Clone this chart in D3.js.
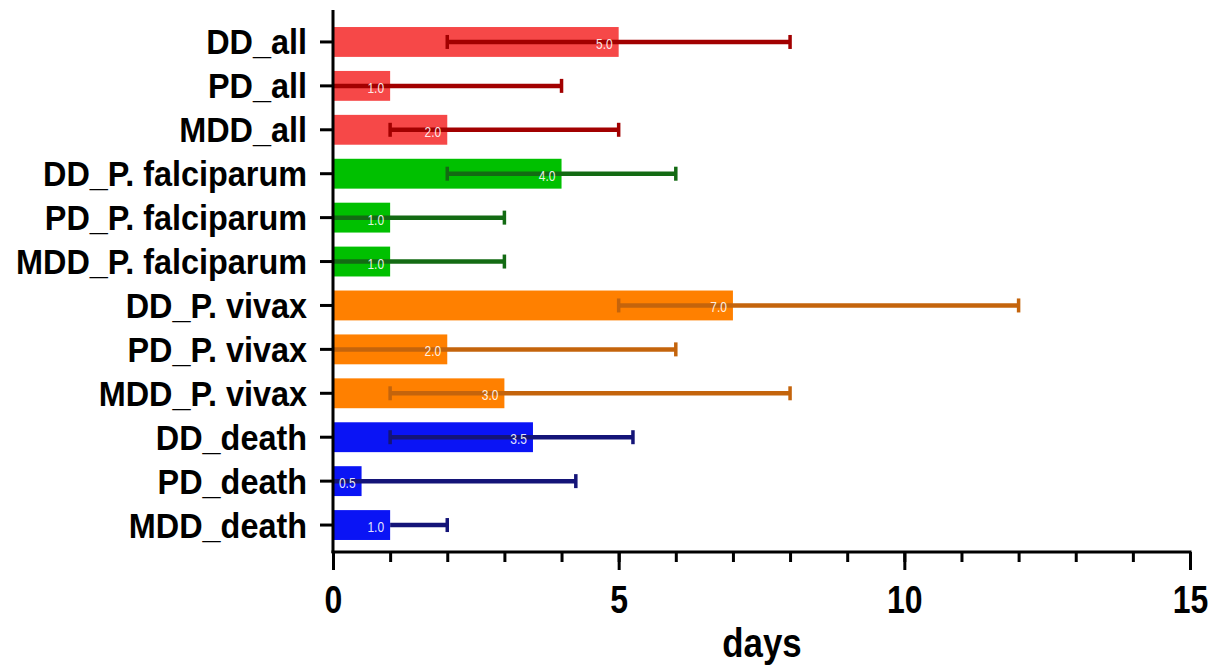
<!doctype html>
<html>
<head>
<meta charset="utf-8">
<script src="https://cdnjs.cloudflare.com/ajax/libs/d3/7.8.5/d3.min.js"></script>
<style>
  body { margin: 0; background: #fff; }
  text { font-family: "Liberation Sans", Arial, sans-serif; }
</style>
</head>
<body>
<svg id="chart" width="1215" height="667"></svg>
<script>
// data
var groups = ["DD_all", "PD_all", "MDD_all",
              "DD_P. falciparum", "PD_P. falciparum", "MDD_P. falciparum",
              "DD_P. vivax", "PD_P. vivax", "MDD_P. vivax",
              "DD_death", "PD_death", "MDD_death"];
var medians = [5.0, 1.0, 2.0, 4.0, 1.0, 1.0, 7.0, 2.0, 3.0, 3.5, 0.5, 1.0];
var lower   = [2, 0, 1, 2, 0, 0, 5, 0, 1, 1, 0, 1];
var upper   = [8, 4, 5, 6, 3, 3, 12, 6, 8, 5.25, 4.25, 2];
var series  = ["all", "all", "all", "pf", "pf", "pf", "pv", "pv", "pv", "death", "death", "death"];
var xTicks  = [0, 5, 10, 15];

var barColor = { all: "#f64848", pf: "#00c000", pv: "#ff8000", death: "#0a14f5" };
var errColor = { all: "#a20000", pf: "#136b13", pv: "#c4640c", death: "#141478" };

var svg = d3.select("#chart");

var x = d3.scaleLinear().domain([0, 15]).range([333, 1190]);
var y = d3.scaleBand().domain(groups).range([20, 547]).paddingInner(0.32).paddingOuter(0.16);

var rows = groups.map(function(g, i) {
  return { name: g, v: medians[i], lo: lower[i], hi: upper[i], s: series[i] };
});

// bars
svg.selectAll("rect.bar").data(rows).enter().append("rect")
  .attr("class", "bar")
  .attr("x", x(0))
  .attr("y", d => y(d.name))
  .attr("width", d => x(d.v) - x(0))
  .attr("height", y.bandwidth())
  .attr("fill", d => barColor[d.s]);

// error bars
var eb = svg.selectAll("g.err").data(rows).enter().append("g").attr("class", "err");
eb.append("line")
  .attr("x1", d => x(d.lo)).attr("x2", d => x(d.hi))
  .attr("y1", d => y(d.name) + y.bandwidth() / 2)
  .attr("y2", d => y(d.name) + y.bandwidth() / 2)
  .attr("stroke", d => errColor[d.s]).attr("stroke-width", 4.5);
eb.append("line")
  .attr("x1", d => x(d.hi)).attr("x2", d => x(d.hi))
  .attr("y1", d => y(d.name) + y.bandwidth() / 2 - 7)
  .attr("y2", d => y(d.name) + y.bandwidth() / 2 + 7)
  .attr("stroke", d => errColor[d.s]).attr("stroke-width", 3.5);
eb.filter(d => d.lo > 0 && d.lo < d.v).append("line")
  .attr("x1", d => x(d.lo)).attr("x2", d => x(d.lo))
  .attr("y1", d => y(d.name) + y.bandwidth() / 2 - 7)
  .attr("y2", d => y(d.name) + y.bandwidth() / 2 + 7)
  .attr("stroke", d => errColor[d.s]).attr("stroke-width", 3.5);

// value labels (narrow)
svg.selectAll("text.val").data(rows).enter().append("text")
  .attr("class", "val")
  .attr("transform", d => "translate(" + (x(d.v) - 6) + "," + (y(d.name) + y.bandwidth() / 2 + 7) + ") scale(0.8,1)")
  .attr("text-anchor", "end")
  .attr("fill", "#fff")
  .attr("fill-opacity", 0.9)
  .attr("font-size", 15)
  .text(d => d.v.toFixed(1));

// y axis
var yAxis = svg.append("g").attr("transform", "translate(" + x(0) + ",0)")
  .call(d3.axisLeft(y).tickSize(13).tickSizeOuter(0));
yAxis.select(".domain").remove();
yAxis.selectAll(".tick line").attr("stroke", "#000").attr("stroke-width", 3);
yAxis.selectAll(".tick text")
  .attr("x", 0).attr("dy", null)
  .attr("transform", "translate(-26,12.5) scale(0.9,1)")
  .attr("font-size", 36).attr("font-weight", "bold").attr("fill", "#000");
svg.append("line").attr("x1", x(0)).attr("x2", x(0)).attr("y1", 10).attr("y2", 553)
  .attr("stroke", "#000").attr("stroke-width", 3);

// x axis
var xAxisY = 552;
var xg = svg.append("g").attr("transform", "translate(0," + xAxisY + ")");
xg.call(d3.axisBottom(x).tickValues(d3.range(0, 16)).tickSize(10).tickFormat(""));
xg.select(".domain").remove();
xg.selectAll(".tick line").attr("stroke", "#000").attr("stroke-width", 3);
var xm = svg.append("g").attr("transform", "translate(0," + xAxisY + ")")
  .call(d3.axisBottom(x).tickValues(xTicks).tickSize(18));
xm.select(".domain").remove();
xm.selectAll(".tick line").attr("stroke", "#000").attr("stroke-width", 3);
xm.selectAll(".tick text")
  .attr("y", null).attr("dy", null)
  .attr("transform", "translate(0,61) scale(0.82,1)")
  .attr("font-size", 39).attr("font-weight", "bold").attr("fill", "#000");
svg.append("line").attr("x1", x(0) - 1.5).attr("x2", x(15) + 1.5).attr("y1", xAxisY).attr("y2", xAxisY)
  .attr("stroke", "#000").attr("stroke-width", 3);

svg.append("text")
  .attr("transform", "translate(762,657) scale(0.87,1)")
  .attr("text-anchor", "middle")
  .attr("font-size", 40).attr("font-weight", "bold")
  .text("days");
</script>
</body>
</html>
